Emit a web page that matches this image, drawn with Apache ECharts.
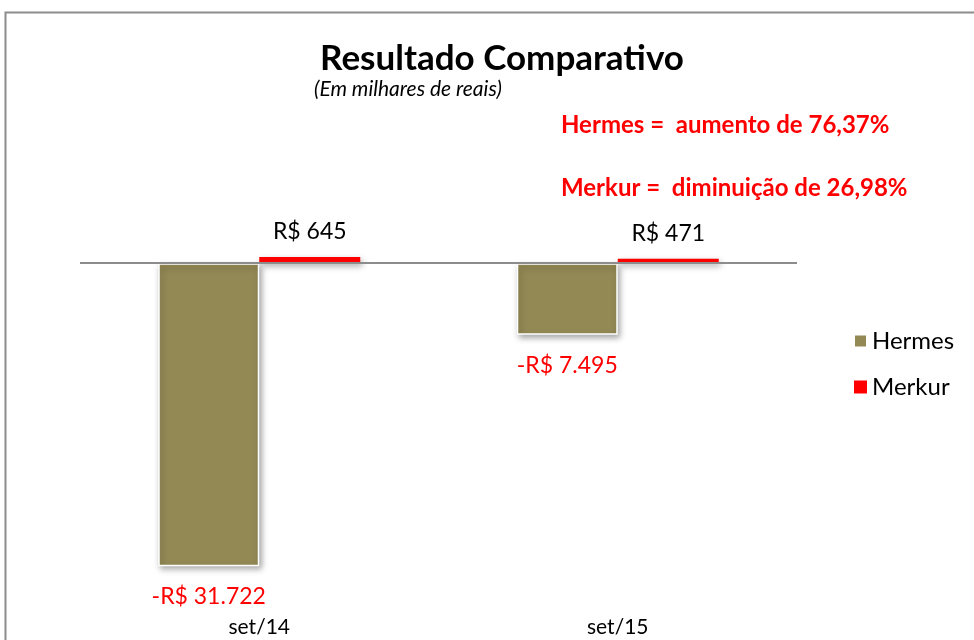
<!DOCTYPE html>
<html>
<head>
<meta charset="utf-8">
<script src="https://cdn.jsdelivr.net/npm/echarts@6/dist/echarts.min.js"></script>
<style>
  html, body { margin: 0; padding: 0; background: #fff; }
  #chart { width: 974px; height: 640px; }
</style>
</head>
<body>
<div id="chart"></div>
<script>
// dados
var categorias = ['set/14', 'set/15'];
var hermes = [-31722, -7495];
var merkur = [645, 471];

function formatoReais(v) {
    var s = Math.abs(v).toLocaleString('pt-BR');
    return (v < 0 ? '-' : '') + 'R$ ' + s;
}

var myChart = echarts.init(document.getElementById('chart'));

var option = {
    backgroundColor: '#fff',
    textStyle: { fontFamily: 'Lato' },
    title: [
        {
            text: 'Resultado Comparativo',
            left: 497, top: 36, textAlign: 'center',
            textStyle: { fontFamily: 'Lato', fontSize: 35, fontWeight: 'bold', color: '#000' }
        },
        {
            text: '(Em milhares de reais)',
            left: 309, top: 74,
            textStyle: { fontFamily: 'Lato', fontSize: 21, fontStyle: 'italic', fontWeight: 'normal', color: '#000' }
        },
        {
            text: 'Hermes =  aumento de 76,37%',
            left: 556, top: 108,
            textStyle: { fontFamily: 'Lato', fontSize: 24, fontWeight: 'bold', color: '#ff0000' }
        },
        {
            text: 'Merkur =  diminuição de 26,98%',
            left: 556, top: 171,
            textStyle: { fontFamily: 'Lato', fontSize: 24, fontWeight: 'bold', color: '#ff0000' }
        }
    ],
    graphic: [
        {
            type: 'rect',
            shape: { x: 5.5, y: 12.5, width: 1000, height: 700 },
            style: { fill: 'none', stroke: '#8c8c8c', lineWidth: 2 },
            silent: true
        }
    ],
    legend: {
        orient: 'vertical',
        left: 848, top: 324,
        icon: 'rect',
        itemWidth: 13, itemHeight: 13,
        itemGap: 22,
        data: ['Hermes', 'Merkur'],
        textStyle: { fontFamily: 'Lato', fontSize: 24, color: '#000' }
    },
    grid: { left: 80, top: 225, width: 717, height: 382 },
    xAxis: {
        type: 'category',
        data: categorias,
        axisLine: { show: false, onZero: false },
        axisTick: { show: false },
        axisLabel: { fontFamily: 'Lato', fontSize: 21, color: '#000', margin: 10 }
    },
    yAxis: {
        type: 'value',
        min: -36000, max: 4000,
        show: false
    },
    series: [
        {
            name: 'Hermes',
            type: 'bar',
            data: hermes,
            barWidth: 101,
            barGap: '0%',
            itemStyle: {
                color: '#938955',
                borderColor: '#fff', borderWidth: 1.5,
                shadowBlur: 6, shadowOffsetX: 2, shadowOffsetY: 3,
                shadowColor: 'rgba(0,0,0,0.35)'
            },
            label: {
                show: true, position: 'bottom', distance: 19,
                fontFamily: 'Lato', fontSize: 23, color: '#ff0000',
                formatter: function (p) { return formatoReais(p.value); }
            },
            markLine: {
                silent: true,
                symbol: 'none',
                label: { show: false },
                lineStyle: { color: '#8c8c8c', width: 2, type: 'solid' },
                data: [{ yAxis: 0 }]
            },
            z: 2
        },
        {
            name: 'Merkur',
            type: 'bar',
            data: merkur,
            barWidth: 101,
            itemStyle: {
                color: '#ff0000',
                shadowBlur: 6, shadowOffsetX: 2, shadowOffsetY: 3,
                shadowColor: 'rgba(0,0,0,0.35)'
            },
            label: {
                show: true, position: 'top', distance: 14,
                fontFamily: 'Lato', fontSize: 23, color: '#000',
                formatter: function (p) { return formatoReais(p.value); }
            },
            z: 3
        }
    ]
};

myChart.setOption(option);
</script>
</body>
</html>
